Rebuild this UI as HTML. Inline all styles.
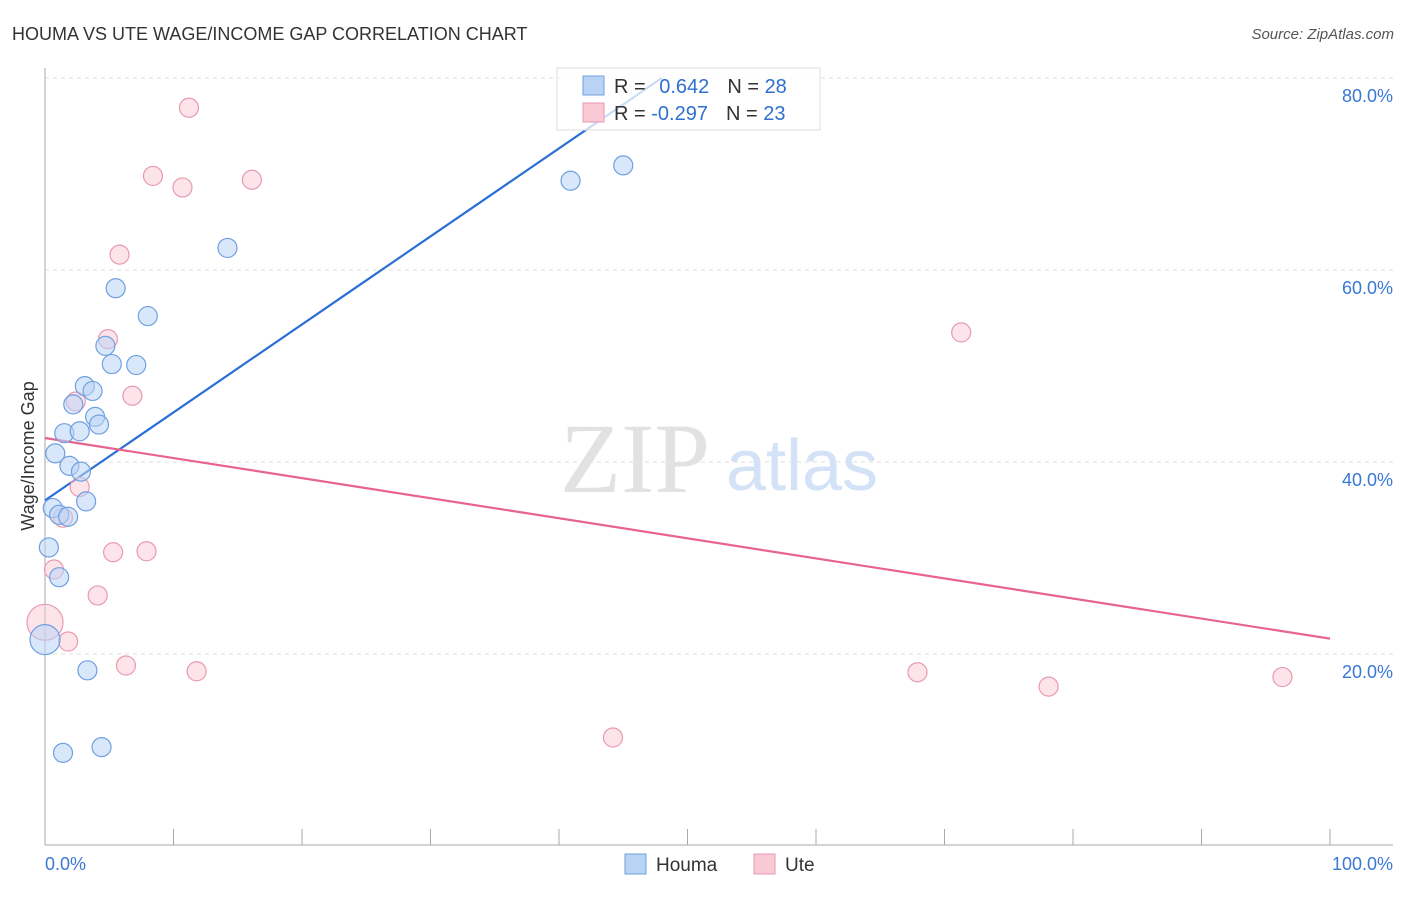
<!DOCTYPE html>
<html><head><meta charset="utf-8"><style>
body{margin:0;background:#fff;font-family:"Liberation Sans",sans-serif;}
</style></head><body>
<svg id="chart" width="1406" height="892" viewBox="0 0 1406 892" xmlns="http://www.w3.org/2000/svg" font-family="Liberation Sans, sans-serif">
<text x="12" y="40" font-size="18" fill="#333">HOUMA VS UTE WAGE/INCOME GAP CORRELATION CHART</text>
<text x="1394" y="39" font-size="15" fill="#555" text-anchor="end" font-style="italic">Source: ZipAtlas.com</text>
<text x="0" y="0" transform="translate(34,456) rotate(-90)" font-size="18" fill="#333" text-anchor="middle">Wage/Income Gap</text>
<g id="grid"></g>
<g><text x="635" y="492" font-size="100" style="font-family:'Liberation Serif',serif" fill="#e2e2e2" text-anchor="middle">ZIP</text><text x="802" y="490" font-size="72" fill="#d3e2f6" text-anchor="middle">atlas</text></g>
<line x1="45" y1="68" x2="45" y2="845" stroke="#aaa"/>
<line x1="45" y1="845" x2="1393" y2="845" stroke="#aaa"/>
<g id="xticks"></g>
<g id="lines"></g>
<g id="points"></g>
<g>
<rect x="557" y="68" width="263" height="62" fill="#fff" fill-opacity="0.75" stroke="#ddd"/>
<rect x="583" y="76" width="21" height="19" fill="#b9d3f5" stroke="#6fa0e0"/>
<text x="614" y="93" font-size="20" fill="#333">R = <tspan fill="#2f6fd0" dx="8">0.642</tspan><tspan dx="18" fill="#333">N = </tspan><tspan fill="#2f6fd0">28</tspan></text>
<rect x="583" y="103" width="21" height="19" fill="#f9c9d6" stroke="#e89ab0"/>
<text x="614" y="120" font-size="20" fill="#333">R = <tspan fill="#2f6fd0">-0.297</tspan><tspan dx="18" fill="#333">N = </tspan><tspan fill="#2f6fd0">23</tspan></text>
</g>
<text x="45" y="870" font-size="18" fill="#3a78d6">0.0%</text>
<text x="1393" y="870" font-size="18" fill="#3a78d6" text-anchor="end">100.0%</text>
<g>
<rect x="625" y="854" width="21" height="20" fill="#b9d3f5" stroke="#6fa0e0"/>
<text x="656" y="871" font-size="19" fill="#333">Houma</text>
<rect x="754" y="854" width="21" height="20" fill="#f9c9d6" stroke="#e89ab0"/>
<text x="785" y="871" font-size="19" fill="#333">Ute</text>
</g>
</svg>
<script>
const yTicks = [20, 40, 60, 80];
const houmaX = [5.5,8.0,4.7,5.2,7.1,3.1,3.7,2.2,3.9,4.2,1.5,2.7,0.8,1.9,2.8,3.2,0.6,1.1,1.8,0.3,1.1,0,3.3,4.4,1.4,14.2,40.9,45.0];
const houmaY = [58.1,55.2,52.1,50.2,50.1,47.9,47.4,46.0,44.7,43.9,43.0,43.2,40.9,39.6,39.0,35.9,35.2,34.5,34.3,31.1,28.0,21.5,18.3,10.3,9.7,62.3,69.3,70.9];
const uteX = [11.2,8.4,10.7,16.1,5.8,4.9,6.8,2.4,2.7,1.4,5.3,7.9,0.7,4.1,0,1.8,6.3,11.8,71.3,67.9,78.1,96.3,44.2];
const uteY = [76.9,69.8,68.6,69.4,61.6,52.8,46.9,46.3,37.4,34.2,30.6,30.7,28.8,26.1,23.3,21.3,18.8,18.2,53.5,18.1,16.6,17.6,11.3];
const houmaTrend = [0, 36.0, 48, 80];
const uteTrend = [0, 42.5, 100, 21.6];
const NS = 'http://www.w3.org/2000/svg';
const xS = v => 45 + v * 12.85;
const yS = v => 846 - v * 9.6;
function mk(tag, attrs, parent){const e=document.createElementNS(NS,tag);for(const k in attrs)e.setAttribute(k,attrs[k]);parent.appendChild(e);return e;}
const grid=document.getElementById('grid');
yTicks.forEach(t=>{
  const l=mk('line',{x1:45,x2:1393,y1:yS(t),y2:yS(t),stroke:'#ddd','stroke-dasharray':'4,4'},grid);
  
  
  const tx=mk('text',{x:1393,y:yS(t)+24,'font-size':18,fill:'#3a78d6','text-anchor':'end'},grid);
  tx.textContent=t.toFixed(1)+'%';
  
  
});
const xt=document.getElementById('xticks');
for(let i=0;i<=10;i++){
  const l=mk('line',{x1:xS(i*10),x2:xS(i*10),y1:829,y2:845,stroke:'#aaa'},xt);
  
  
}
const lg=document.getElementById('lines');
const hl=mk('line',{x1:xS(houmaTrend[0]),y1:yS(houmaTrend[1]),x2:xS(houmaTrend[2]),y2:yS(houmaTrend[3]),stroke:'#2a6fd6','stroke-width':2.2},lg);


const ul=mk('line',{x1:xS(uteTrend[0]),y1:yS(uteTrend[1]),x2:xS(uteTrend[2]),y2:yS(uteTrend[3]),stroke:'#e8638f','stroke-width':2.2},lg);


const pg=document.getElementById('points');
uteX.forEach((x,i)=>{
  const r=(x===0)?18:9.5;
  const c=mk('circle',{cx:xS(x),cy:yS(uteY[i]),r:r,fill:'#f9c9d6','fill-opacity':0.5,stroke:'#e89ab0','stroke-width':1.2},pg);
  
  
});
houmaX.forEach((x,i)=>{
  const r=(x===0)?15:9.5;
  const c=mk('circle',{cx:xS(x),cy:yS(houmaY[i]),r:r,fill:'#b9d3f5','fill-opacity':0.55,stroke:'#6fa0e0','stroke-width':1.2},pg);
  
  
});
</script>
</body></html>
